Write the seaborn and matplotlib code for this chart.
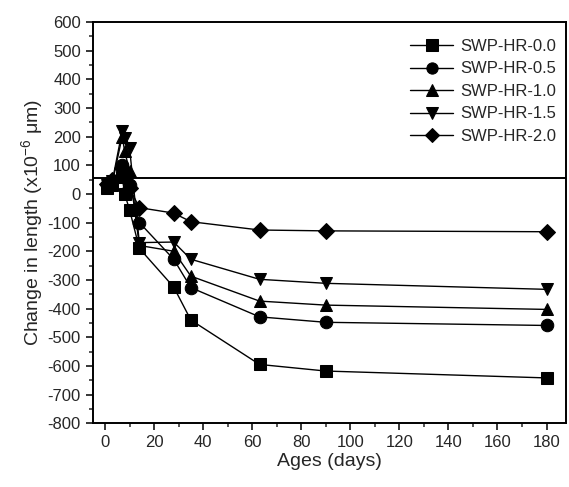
import matplotlib
matplotlib.use("Agg")
import matplotlib.pyplot as plt
from matplotlib.ticker import MultipleLocator
import seaborn as sns
import pandas as pd

# Data

days = [1, 3, 7, 8, 10, 14, 28, 35, 63, 90, 180]
hr_00 = [20, 30, 60, 0, -55, -190, -325, -440, -595, -618, -642]
hr_05 = [30, 40, 100, 70, 30, -100, -228, -327, -429, -448, -459]
hr_10 = [25, 40, 200, 150, 80, -180, -200, -287, -374, -388, -403]
hr_15 = [30, 45, 220, 195, 160, -170, -168, -228, -298, -312, -333]
hr_20 = [35, 50, 90, 60, 20, -48, -67, -97, -126, -129, -132]

series_names = ["SWP-HR-0.0", "SWP-HR-0.5", "SWP-HR-1.0", "SWP-HR-1.5", "SWP-HR-2.0"]
series_values = [hr_00, hr_05, hr_10, hr_15, hr_20]
marker_list = ["s", "o", "^", "v", "D"]
ref_level = 55

df = pd.DataFrame({
    "Ages": days * len(series_names),
    "Change": [v for vals in series_values for v in vals],
    "Mix": [n for n in series_names for _ in days],
})

#Plot

sns.set_style("ticks")
plt.rcParams["font.family"] = ["Liberation Sans", "DejaVu Sans"]
plt.rcParams["axes.unicode_minus"] = False
plt.rcParams["mathtext.default"] = "regular"

fig = plt.figure(figsize=(5.69, 4.87), dpi=100)
ax = fig.add_axes([0.163, 0.131, 0.832, 0.824])

ax.axhline(ref_level, color="black", linewidth=1.4, zorder=1)

for name, mk in zip(series_names, marker_list):
    sns.lineplot(
        data=df[df["Mix"] == name],
        x="Ages",
        y="Change",
        color="black",
        marker=mk,
        markersize=9 if mk != "D" else 8,
        markeredgecolor="black",
        linewidth=1.0,
        label=name,
        ax=ax,
    )

ax.set_xlim(-5, 188)
ax.set_ylim(-800, 600)
ax.xaxis.set_major_locator(MultipleLocator(20))
ax.xaxis.set_minor_locator(MultipleLocator(10))
ax.yaxis.set_major_locator(MultipleLocator(100))
ax.yaxis.set_minor_locator(MultipleLocator(50))
ax.tick_params(which="major", direction="out", length=5, width=1.3, labelsize=12)
ax.tick_params(which="minor", direction="out", length=3, width=1.1)

for sp in ax.spines.values():
    sp.set_linewidth(1.4)
    sp.set_color("black")

ax.set_xlabel("Ages (days)", fontsize=14, labelpad=2)
ax.set_ylabel("Change in length (x10$^{-6}$ \u03bcm)", fontsize=14, labelpad=2)

ax.legend(
    loc="upper right",
    bbox_to_anchor=(1.01, 0.995),
    frameon=False,
    fontsize=12,
    handlelength=2.6,
    labelspacing=0.45,
    handletextpad=0.4,
    markerscale=0.9,
)

plt.savefig("out.png", dpi=100)
